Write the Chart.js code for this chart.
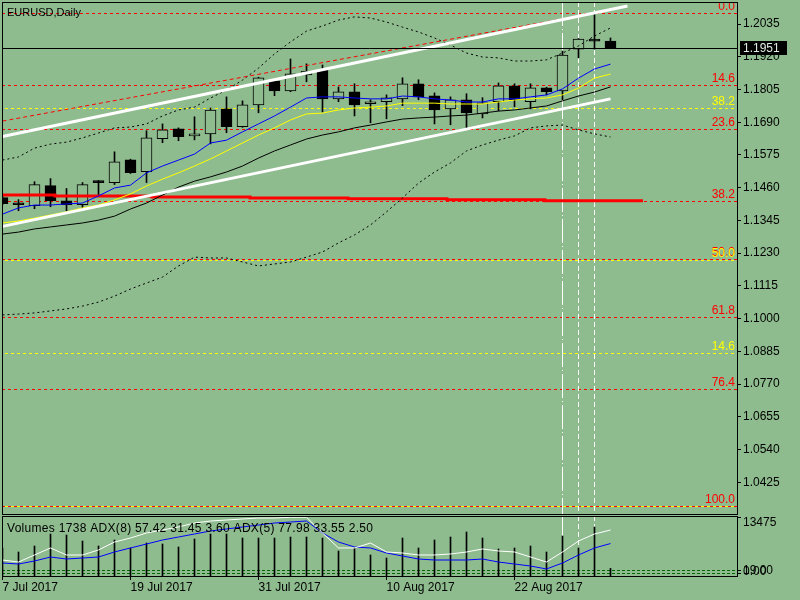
<!DOCTYPE html>
<html>
<head>
<meta charset="utf-8">
<title>EURUSD,Daily</title>
<script src="https://cdn.jsdelivr.net/npm/chart.js@4.4.1/dist/chart.umd.min.js"></script>
<style>
  html, body { margin: 0; padding: 0; background: #8fbc8f; }
  #wrap { position: relative; width: 800px; height: 600px; overflow: hidden; }
  #main { position: absolute; left: 0; top: 0; }
  #ind { position: absolute; left: 0; top: 515px; }
</style>
</head>
<body>
<div id="wrap">
  <canvas id="main" width="800" height="515"></canvas>
  <canvas id="ind" width="800" height="85"></canvas>
</div>
<script>
// bar 0 = 7 Jul 2017 ... bar 38 = 30 Aug 2017
const dateTicks = [0, 8, 16, 24, 32];
const dateLabels = ['7 Jul 2017', '19 Jul 2017', '31 Jul 2017', '10 Aug 2017', '22 Aug 2017'];

const open = [1.1425,1.1401,1.1397,1.1467,1.1414,1.1400,1.1480,1.1478,1.1558,1.1516,1.1632,1.1667,1.1642,1.1649,1.1737,1.1674,1.1751,1.1835,1.1800,1.1856,1.1874,1.1772,1.1797,1.1755,1.1762,1.1772,1.1825,1.1783,1.1737,1.1769,1.1719,1.1762,1.1818,1.1762,1.1811,1.1800,1.1947,1.1978,1.1975];
const high = [1.1430,1.1418,1.1481,1.1492,1.1457,1.1478,1.1485,1.1586,1.1560,1.1660,1.1684,1.1670,1.1709,1.1740,1.1779,1.1765,1.1848,1.1839,1.1912,1.1895,1.1891,1.1814,1.1825,1.1769,1.1786,1.1846,1.1839,1.1793,1.1779,1.1790,1.1776,1.1828,1.1825,1.1825,1.1813,1.1940,1.1984,1.2074,1.1986];
const low = [1.1400,1.1379,1.1386,1.1393,1.1379,1.1383,1.1435,1.1471,1.1510,1.1478,1.1618,1.1625,1.1628,1.1614,1.1653,1.1672,1.1723,1.1783,1.1797,1.1832,1.1726,1.1762,1.1712,1.1688,1.1702,1.1748,1.1769,1.1684,1.1681,1.1667,1.1705,1.1730,1.1744,1.1737,1.1786,1.1769,1.1916,1.1947,1.1949];
const close = [1.1404,1.1400,1.1471,1.1414,1.1400,1.1471,1.1478,1.1551,1.1513,1.1635,1.1663,1.1639,1.1649,1.1733,1.1674,1.1751,1.1846,1.1800,1.1860,1.1870,1.1772,1.1797,1.1751,1.1762,1.1776,1.1825,1.1779,1.1733,1.1769,1.1723,1.1758,1.1818,1.1769,1.1811,1.1797,1.1926,1.1982,1.1975,1.1951];

// moving averages (blue, yellow, black) and bollinger bands
const maFast = [1.1367,1.1389,1.1399,1.1399,1.1403,1.1406,1.1431,1.1459,1.1469,1.1512,1.1536,1.1557,1.1578,1.1617,1.1627,1.1656,1.1684,1.1712,1.1743,1.1775,1.1779,1.1779,1.1775,1.1772,1.1772,1.1782,1.1779,1.1772,1.1768,1.1761,1.1761,1.1772,1.1772,1.1779,1.1786,1.1807,1.1845,1.1877,1.1894];
const maMid = [1.1336,1.1343,1.1353,1.1364,1.1375,1.1389,1.1399,1.1417,1.1438,1.1466,1.1490,1.1512,1.1536,1.1561,1.1589,1.1617,1.1645,1.1670,1.1698,1.1719,1.1722,1.1733,1.1740,1.1743,1.1747,1.1757,1.1757,1.1757,1.1754,1.1754,1.1754,1.1761,1.1768,1.1772,1.1775,1.1786,1.1810,1.1845,1.1859];
const maSlow = [1.1297,1.1304,1.1315,1.1322,1.1329,1.1336,1.1346,1.1360,1.1385,1.1406,1.1434,1.1462,1.1483,1.1498,1.1515,1.1536,1.1564,1.1589,1.1610,1.1631,1.1645,1.1656,1.1670,1.1680,1.1691,1.1701,1.1705,1.1708,1.1712,1.1715,1.1722,1.1729,1.1733,1.1740,1.1747,1.1765,1.1782,1.1796,1.1814];
const bbUpper = [1.1557,1.1568,1.1599,1.1613,1.1620,1.1635,1.1652,1.1670,1.1673,1.1684,1.1712,1.1733,1.1743,1.1775,1.1803,1.1838,1.1880,1.1930,1.1972,1.2010,1.2028,1.2049,1.2060,1.2056,1.2042,1.2024,1.2007,1.1986,1.1961,1.1933,1.1919,1.1916,1.1905,1.1905,1.1909,1.1933,1.1958,1.1993,1.2021];
const bbLower = [1.1013,1.1016,1.1020,1.1027,1.1034,1.1044,1.1058,1.1079,1.1104,1.1125,1.1146,1.1185,1.1216,1.1213,1.1213,1.1199,1.1185,1.1192,1.1199,1.1216,1.1234,1.1266,1.1294,1.1329,1.1375,1.1424,1.1476,1.1515,1.1547,1.1589,1.1610,1.1627,1.1642,1.1670,1.1677,1.1680,1.1663,1.1649,1.1638];

const priceTicks = [1.2035,1.1920,1.1805,1.1690,1.1575,1.1460,1.1345,1.1230,1.1115,1.1000,1.0885,1.0770,1.0655,1.0540,1.0425];

// fibonacci (red) and the yellow levels
const fibHigh = 1.2074;
const fibLow = 1.0343;
const fibRatios = [0, 0.146, 0.236, 0.382, 0.5, 0.618, 0.764, 1];
const fibLabels = ['0.0', '14.6', '23.6', '38.2', '50.0', '61.8', '76.4', '100.0'];
const yellowLevels = [1.1740, 1.1206, 1.0879, 1.0343];
const yellowLabels = ['38.2', '50.0', '14.6', ''];

// trend lines: bar number -> price
const trendUpX = [0, 39.06];
const trendUpY = [1.1640, 1.2098];
const trendLoX = [0, 38];
const trendLoY = [1.1324, 1.1772];
const channelX = [0, 37];
const channelY = [1.1694, 1.2074];
const redStepX = [-0.5, 3.28, 9.34, 15.47, 21.59, 27.78, 33.9, 40.03];
const redStepY = [1.1434, 1.1431, 1.1427, 1.1424, 1.1421, 1.1418, 1.1414, 1.1414];
const markBars = [35, 36, 37];

// sub window
const volume = [6395,5482,6852,9593,9364,7994,6852,8222,6395,7537,7309,6624,8451,9593,9593,8679,8679,8679,8908,8908,8679,5710,6395,4796,4111,8679,6395,8222,8908,10050,8679,6167,6395,6852,5482,9136,6395,11192,1738];
const adxWhite = [27.1,23.7,35.6,47.5,35.6,35.6,44.1,57.6,64.4,72.9,78.0,83.1,89.8,93.2,94.9,96.6,98.3,98.3,99.5,99.6,72.9,47.5,47.5,55.9,40.7,39.0,35.6,35.6,37.3,40.7,45.8,42.4,40.7,32.2,23.7,40.7,59.3,71.2,77.98];
const adxBlue = [22.0,20.3,25.4,32.2,28.8,30.5,32.2,40.7,47.5,54.2,61.0,66.1,71.2,76.3,79.7,83.1,86.4,89.8,91.5,93.2,72.9,57.6,49.2,47.5,39.0,33.9,28.8,27.1,27.1,27.1,28.8,23.7,20.3,16.9,11.9,22.0,35.6,47.5,55.0];
const adxLevels = [8.5, 4.2];
const volTop = 13475;
const indLabel = 'Volumes 1738 ADX(8) 57.42 31.45 3.60 ADX(5) 77.98 33.55 2.50';

const BG = '#8fbc8f';
const FONT = '"Liberation Sans", Arial, sans-serif';
const X_MIN = -1 / 32;
const X_MAX = X_MIN + 735 / 16;

const series = arr => arr.map((y, i) => ({x: i, y}));
const pts = (xs, ys) => xs.map((x, k) => ({x, y: ys[k]}));
const fibPrice = r => fibHigh - r * (fibHigh - fibLow);
const bars = open.map((_, i) => i);

function hLine(ctx, x0, x1, y) {
  ctx.beginPath(); ctx.moveTo(x0, y); ctx.lineTo(x1, y); ctx.stroke();
}

function drawMarks(ctx, xs, top, bottom) {
  const dashes = [[24, 3, 1, 3], [5, 3], [5, 3]];
  ctx.strokeStyle = '#ffffff';
  ctx.lineWidth = 1;
  markBars.forEach((b, k) => {
    const x = Math.floor(xs.getPixelForValue(b)) + 0.5;
    ctx.setLineDash(dashes[k]);
    ctx.beginPath(); ctx.moveTo(x, top); ctx.lineTo(x, bottom); ctx.stroke();
  });
}

const mainDecor = {
  id: 'mainDecor',
  beforeDatasetsDraw(chart) {
    const {ctx, chartArea: a, scales: {x, y}} = chart;
    ctx.save();
    ctx.lineWidth = 1;
    ctx.setLineDash([3, 3]);
    ctx.lineDashOffset = 3;
    ctx.strokeStyle = '#ffff00';
    yellowLevels.forEach(v => hLine(ctx, a.left, a.right, Math.round(y.getPixelForValue(v)) + 0.5));
    ctx.lineDashOffset = 0;
    ctx.strokeStyle = '#ff0000';
    fibRatios.forEach(r => hLine(ctx, a.left, a.right, Math.round(y.getPixelForValue(fibPrice(r))) + 0.5));
    drawMarks(ctx, x, a.top, a.bottom);
    ctx.restore();
  },
  afterDatasetsDraw(chart) {
    const {ctx, chartArea: a, scales: {y}} = chart;
    ctx.save();
    // bid line
    ctx.strokeStyle = '#000';
    ctx.lineWidth = 1;
    hLine(ctx, a.left, a.right, Math.round(y.getPixelForValue(close[close.length - 1])) + 0.5);
    // level labels
    ctx.beginPath();
    ctx.rect(a.left, a.top, a.right - a.left, a.bottom - a.top);
    ctx.clip();
    ctx.font = '12px ' + FONT;
    ctx.textAlign = 'right';
    ctx.textBaseline = 'alphabetic';
    ctx.fillStyle = '#ff0000';
    fibRatios.forEach((r, k) => {
      ctx.fillText(fibLabels[k], a.right - 2, Math.round(y.getPixelForValue(fibPrice(r))) - 3);
    });
    ctx.fillStyle = '#ffff00';
    yellowLevels.forEach((v, k) => {
      if (yellowLabels[k]) ctx.fillText(yellowLabels[k], a.right - 2, Math.round(y.getPixelForValue(v)) - 3);
    });
    ctx.restore();
  },
  afterDraw(chart) {
    const {ctx, chartArea: a, scales: {y}} = chart;
    ctx.save();
    ctx.strokeStyle = '#000';
    ctx.lineWidth = 1;
    ctx.strokeRect(a.left + 0.5, a.top + 0.5, a.right - a.left, a.bottom - a.top);
    ctx.fillStyle = '#000';
    ctx.font = '11px ' + FONT;
    ctx.textBaseline = 'alphabetic';
    ctx.fillText('EURUSD,Daily', a.left + 5, a.top + 14);
    const last = close[close.length - 1];
    const yb = Math.round(y.getPixelForValue(last));
    ctx.fillRect(y.left + 3, yb - 7, 47, 14);
    ctx.fillStyle = '#e2ebe2';
    ctx.font = '12px ' + FONT;
    ctx.textBaseline = 'middle';
    ctx.fillText(last.toFixed(4), y.left + 6, yb + 0.5);
    ctx.restore();
  }
};

const indDecor = {
  id: 'indDecor',
  beforeDatasetsDraw(chart) {
    const {ctx, chartArea: a, scales} = chart;
    ctx.save();
    ctx.lineWidth = 1;
    ctx.strokeStyle = '#006400';
    ctx.setLineDash([3, 2]);
    adxLevels.forEach(v => hLine(ctx, a.left, a.right, Math.floor(scales.ya.getPixelForValue(v)) + 0.5));
    drawMarks(ctx, scales.x, a.top, a.bottom);
    ctx.restore();
  },
  afterDraw(chart) {
    const {ctx, chartArea: a, scales} = chart;
    ctx.save();
    ctx.strokeStyle = '#000';
    ctx.lineWidth = 1;
    ctx.strokeRect(a.left + 0.5, a.top + 0.5, a.right - a.left, a.bottom - a.top);
    ctx.fillStyle = '#000';
    ctx.font = '12px ' + FONT;
    ctx.textBaseline = 'alphabetic';
    if ('letterSpacing' in ctx) ctx.letterSpacing = '0.3px';
    ctx.fillText(indLabel, a.left + 5, a.top + 16);
    if ('letterSpacing' in ctx) ctx.letterSpacing = '0px';
    // level marks on the right scale
    const ax = scales.yv.left;
    adxLevels.forEach(v => {
      const yy = Math.floor(scales.ya.getPixelForValue(v)) + 0.5;
      hLine(ctx, ax, ax + 4, yy);
    });
    ctx.textBaseline = 'middle';
    const yl = scales.ya.getPixelForValue(adxLevels[0]);
    ctx.fillText('19.00', ax + 6, yl);
    ctx.fillText('0.00', ax + 6, yl + 1);
    ctx.restore();
  }
};

const tickFont = {family: FONT, size: 12};
const axisGrid = {display: true, offset: false, drawOnChartArea: false, drawTicks: true, tickLength: 4, color: '#000'};

new Chart(document.getElementById('main'), {
  type: 'bar',
  data: {
    datasets: [
      {type: 'line', data: pts(trendUpX, trendUpY), borderColor: '#ffffff', borderWidth: 3, pointRadius: 0, order: 0},
      {type: 'line', data: pts(trendLoX, trendLoY), borderColor: '#ffffff', borderWidth: 3, pointRadius: 0, order: 0},
      {type: 'line', data: pts(channelX, channelY), borderColor: '#ff0000', borderWidth: 1, borderDash: [4, 3], pointRadius: 0, order: 0},
      {type: 'line', data: series(maFast), borderColor: '#0000ff', borderWidth: 1, pointRadius: 0, order: 1},
      {type: 'line', data: series(maMid), borderColor: '#ffff00', borderWidth: 1, pointRadius: 0, order: 2},
      {type: 'line', data: series(maSlow), borderColor: '#000000', borderWidth: 1, pointRadius: 0, order: 3},
      {type: 'line', data: series(bbUpper), borderColor: '#000000', borderWidth: 1, borderDash: [2, 3], pointRadius: 0, order: 4},
      {type: 'line', data: series(bbLower), borderColor: '#000000', borderWidth: 1, borderDash: [2, 3], pointRadius: 0, order: 4},
      {type: 'line', data: pts(redStepX, redStepY), borderColor: '#ff0000', borderWidth: 3, stepped: true, pointRadius: 0, order: 5},
      {
        type: 'bar',
        data: bars.map(i => ({x: i, y: [open[i], close[i]]})),
        backgroundColor: bars.map(i => close[i] > open[i] ? BG : '#000000'),
        borderColor: '#000000', borderWidth: 1, borderSkipped: false,
        barThickness: 11, maxBarThickness: 11, minBarLength: 2, grouped: false, clip: 0, order: 6
      },
      {
        type: 'bar',
        data: bars.map(i => ({x: i, y: [low[i], high[i]]})),
        backgroundColor: '#000000', borderWidth: 0,
        barThickness: 1, maxBarThickness: 1, grouped: false, clip: 0, order: 7
      }
    ]
  },
  options: {
    responsive: false,
    animation: false,
    events: [],
    layout: {padding: {left: 2, top: 2, right: 0, bottom: 1}},
    plugins: {legend: {display: false}, tooltip: {enabled: false}},
    scales: {
      x: {type: 'linear', min: X_MIN, max: X_MAX, offset: false, grid: {offset: false}, display: false},
      y: {
        type: 'linear', position: 'right', min: 1.03136, max: 1.21123,
        afterBuildTicks: s => { s.ticks = priceTicks.map(v => ({value: v})); },
        afterFit: s => { s.width = 63; s.paddingTop = 0; s.paddingBottom = 0; },
        grid: axisGrid,
        border: {display: true, color: '#000', width: 1},
        ticks: {color: '#000', padding: 2, autoSkip: false, font: tickFont, callback: v => Number(v).toFixed(4)}
      }
    }
  },
  plugins: [mainDecor]
});

new Chart(document.getElementById('ind'), {
  type: 'bar',
  data: {
    datasets: [
      {type: 'line', data: series(adxWhite), yAxisID: 'ya', borderColor: '#ffffff', borderWidth: 1, pointRadius: 0, clip: 0, order: 1},
      {type: 'line', data: series(adxBlue), yAxisID: 'ya', borderColor: '#0000ff', borderWidth: 1, pointRadius: 0, clip: 0, order: 2},
      {
        type: 'bar', data: series(volume), yAxisID: 'yv',
        backgroundColor: '#000000', borderWidth: 0,
        barThickness: 1, maxBarThickness: 1, grouped: false, clip: 0, order: 3
      }
    ]
  },
  options: {
    responsive: false,
    animation: false,
    events: [],
    layout: {padding: {left: 2, top: 1, right: 0, bottom: 0}},
    plugins: {legend: {display: false}, tooltip: {enabled: false}},
    scales: {
      x: {
        type: 'linear', position: 'bottom', min: X_MIN, max: X_MAX, offset: false,
        afterBuildTicks: s => { s.ticks = dateTicks.map(v => ({value: v})); },
        afterFit: s => { s.height = 24; s.paddingLeft = 0; s.paddingRight = 0; },
        grid: axisGrid,
        border: {display: true, color: '#000'},
        ticks: {color: '#000', padding: 0, align: 'start', autoSkip: false, maxRotation: 0, font: tickFont,
                callback: (v, k) => dateLabels[k]}
      },
      yv: {
        type: 'linear', position: 'right', min: 0, max: volTop * 60 / 59,
        afterBuildTicks: s => { s.ticks = [{value: volTop}]; },
        afterFit: s => { s.width = 63; s.paddingTop = 0; s.paddingBottom = 0; },
        grid: axisGrid,
        border: {display: true, color: '#000'},
        ticks: {color: '#000', padding: 2, labelOffset: 6, autoSkip: false, font: tickFont, callback: v => String(v)}
      },
      ya: {type: 'linear', display: false, min: 0, max: 101.7}
    }
  },
  plugins: [indDecor]
});
</script>
</body>
</html>
